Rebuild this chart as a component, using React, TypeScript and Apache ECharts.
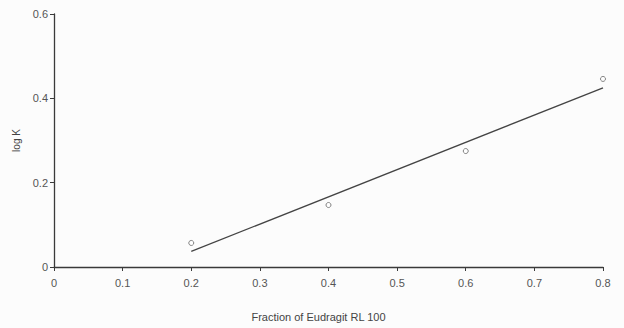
import React, { useEffect, useRef } from "react";
import * as echarts from "echarts";

const fractionX = [0.2, 0.4, 0.6, 0.8];
const logK = [0.057, 0.147, 0.275, 0.446];
const fitX = [0.2, 0.8];
const fitY = [0.037, 0.425];
const xAxisTitle = "Fraction of Eudragit RL 100";
const yAxisTitle = "log K";

export default function App() {
  const ref = useRef<HTMLDivElement>(null);
  useEffect(() => {
    if (!ref.current) return;
    const chart = echarts.init(ref.current, undefined, { renderer: "svg" });
    const font = "Liberation Sans, Arial, sans-serif";
    chart.setOption({
      animation: false,
      backgroundColor: "#fcfcfc",
      grid: { left: 54, right: 21, top: 14, bottom: 61 },
      xAxis: {
        type: "value",
        min: 0,
        max: 0.8,
        interval: 0.1,
        name: xAxisTitle,
        nameLocation: "middle",
        nameGap: 44,
        nameTextStyle: { color: "#444", fontSize: 11, fontFamily: font, padding: [0, 20, 0, 0] },
        axisLine: { show: true, onZero: false, lineStyle: { color: "#3a3a3a", width: 1.3 } },
        axisTick: { show: true, length: 4, lineStyle: { color: "#3a3a3a" } },
        axisLabel: { color: "#555", fontSize: 11, fontFamily: font, margin: 10 },
        splitLine: { show: false },
      },
      yAxis: {
        type: "value",
        min: 0,
        max: 0.6,
        interval: 0.2,
        name: yAxisTitle,
        nameLocation: "middle",
        nameRotate: 90,
        nameGap: 33,
        nameTextStyle: { color: "#444", fontSize: 10, fontFamily: font },
        axisLine: { show: true, lineStyle: { color: "#3a3a3a", width: 1.3 } },
        axisTick: { show: true, length: 4, lineStyle: { color: "#3a3a3a" } },
        axisLabel: { color: "#555", fontSize: 11, fontFamily: font, margin: 6 },
        splitLine: { show: false },
      },
      series: [
        {
          type: "line",
          data: fitX.map((x, i) => [x, fitY[i]]),
          showSymbol: false,
          symbol: "none",
          lineStyle: { color: "#444", width: 1.3 },
          z: 2,
        },
        {
          type: "scatter",
          data: fractionX.map((x, i) => [x, logK[i]]),
          symbol: "circle",
          symbolSize: 5,
          itemStyle: { color: "#fff", borderColor: "#666", borderWidth: 1 },
          z: 3,
        },
      ],
    });
    return () => chart.dispose();
  }, []);
  return <div ref={ref} style={{ width: 624, height: 328, position: "absolute", left: 0, top: 0 }} />;
}
